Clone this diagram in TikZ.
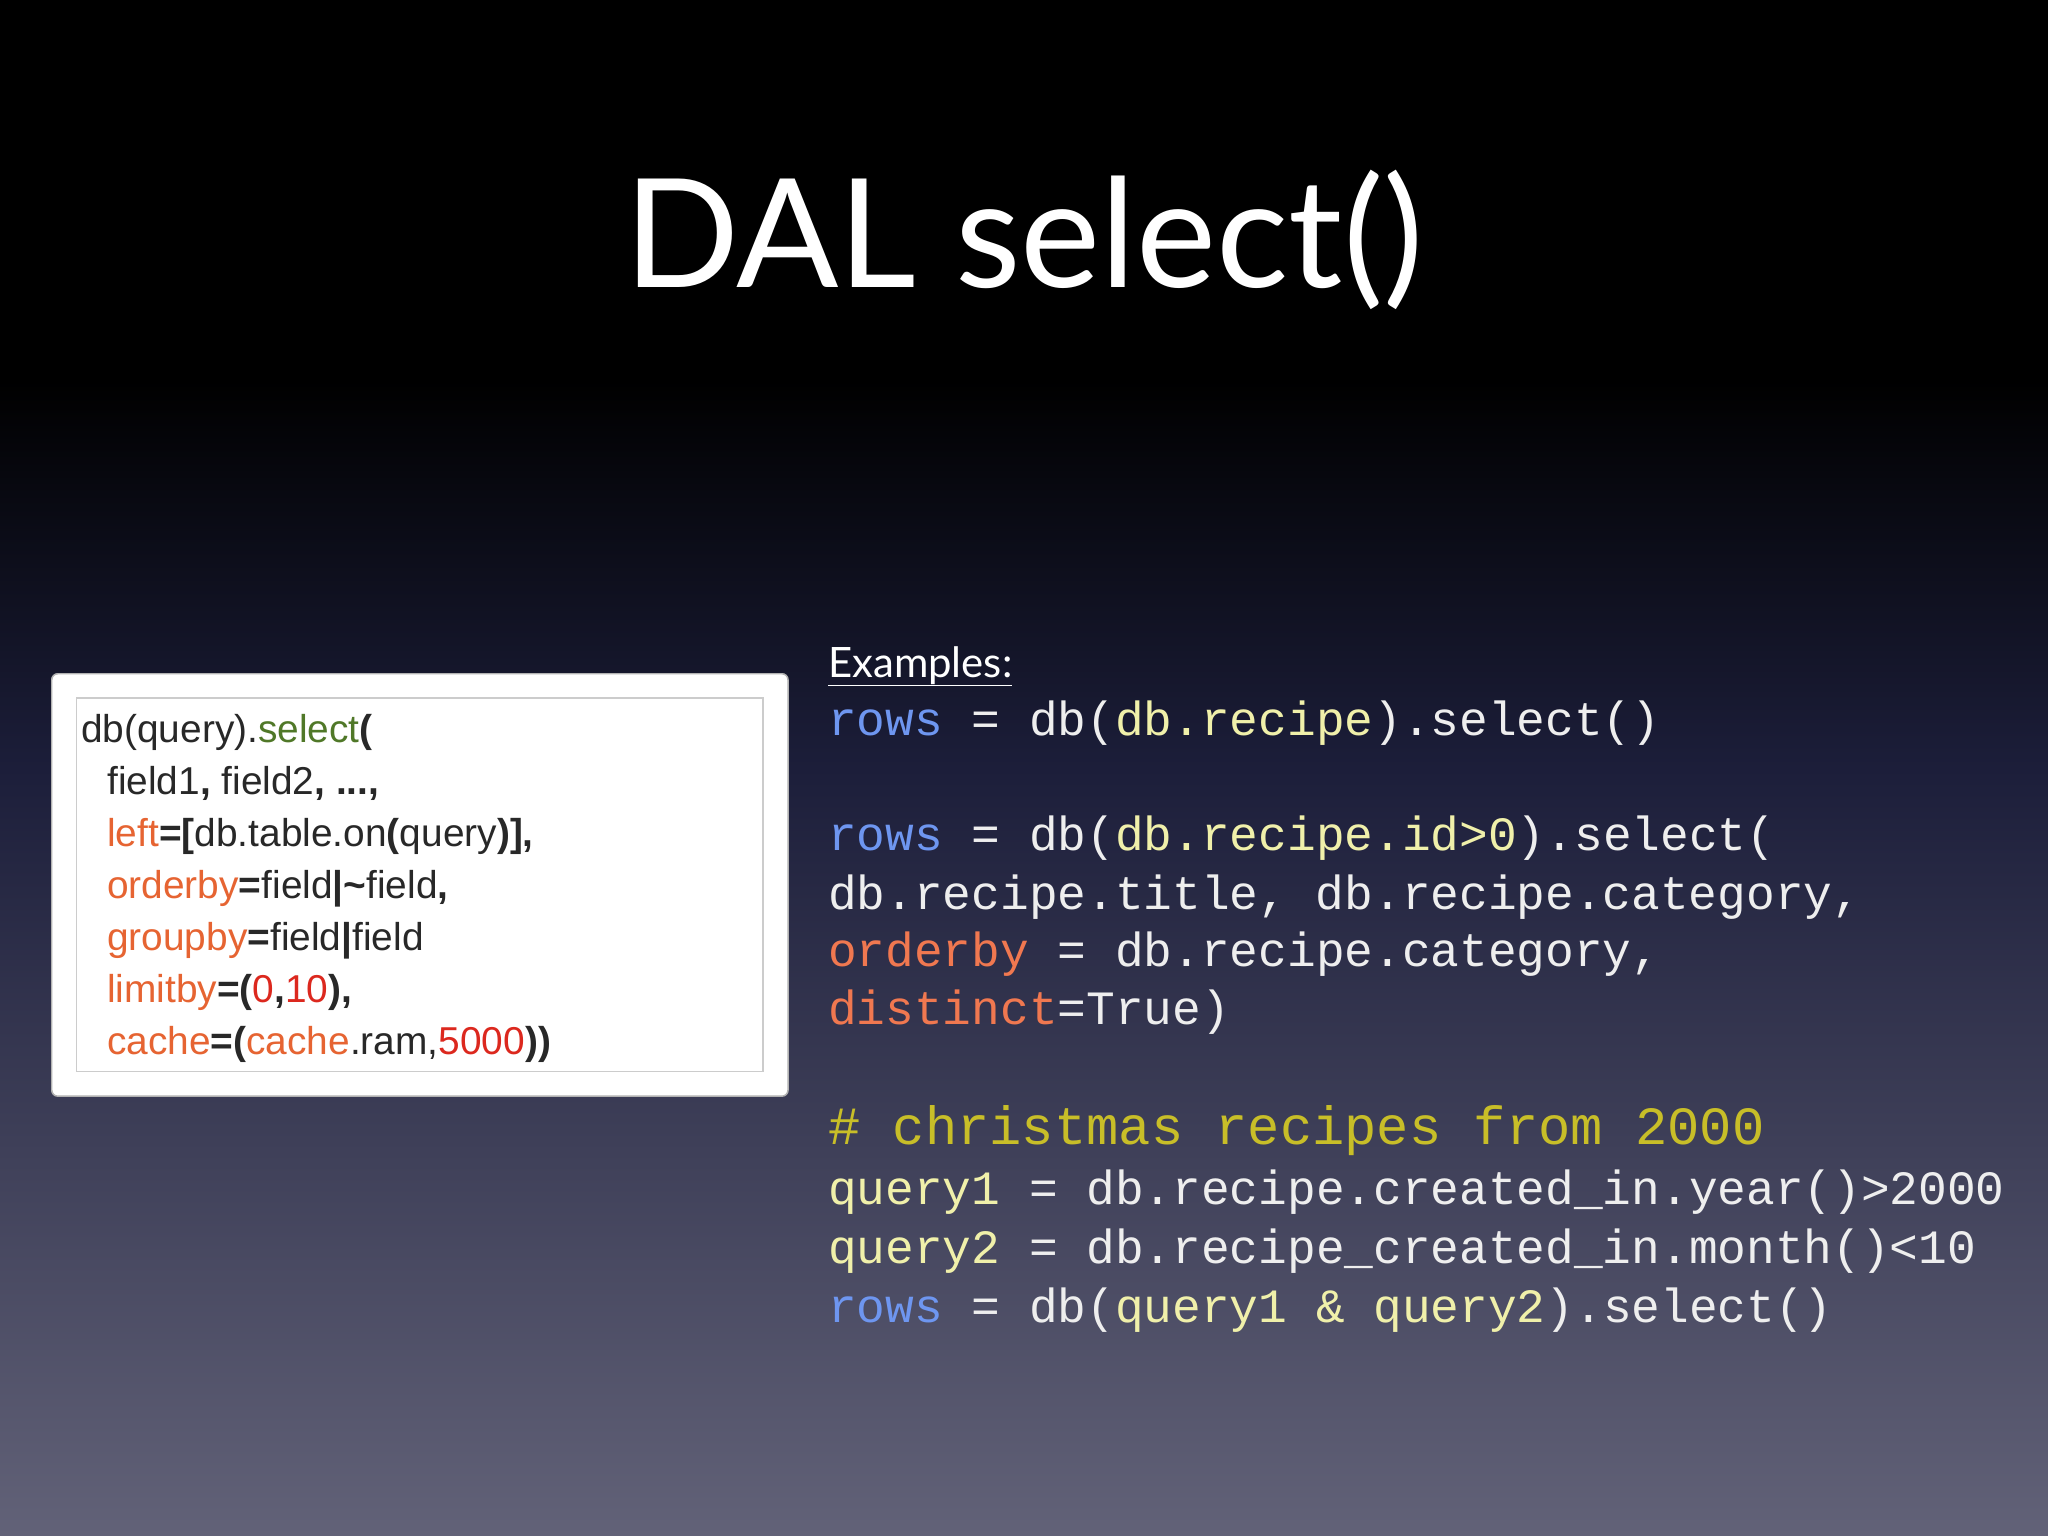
\documentclass[tikz,border=0pt]{standalone}
\usepackage{fontspec}
\setmainfont{Liberation Sans}
\newfontfamily\titlefont{Lato}
\newfontfamily\codefont{Liberation Mono}
\newfontfamily\boxfont{Liberation Sans}
\definecolor{cblue}{RGB}{110,150,240}
\definecolor{cyel}{RGB}{240,240,170}
\definecolor{corg}{RGB}{240,120,80}
\definecolor{ccom}{RGB}{200,190,40}
\definecolor{cwh}{RGB}{238,238,238}
\definecolor{bdark}{RGB}{40,40,40}
\definecolor{bgreen}{RGB}{80,120,40}
\definecolor{borg}{RGB}{230,100,50}
\definecolor{bred}{RGB}{220,40,30}
\definecolor{bgmid}{RGB}{28,30,58}
\definecolor{bgbot}{RGB}{98,98,120}
\tikzset{
  code/.style={anchor=base west,inner sep=0,text=cwh,font=\codefont\fontsize{48}{48}\selectfont},
  bx/.style={anchor=base west,inner sep=0,text=bdark,font=\boxfont\fontsize{39}{39}\selectfont},
}
\begin{document}
\begin{tikzpicture}[x=1bp,y=-1bp]
\shade[top color=black,middle color=bgmid,bottom color=bgbot] (0,0) rectangle (2048,1536);
\fill[black] (0,0) rectangle (2048,380);
\shade[top color=black,bottom color=bgmid] (0,380) rectangle (2048,768);
\shade[top color=bgmid,bottom color=bgbot] (0,768) rectangle (2048,1536);
\useasboundingbox (0,0) rectangle (2048,1536);
\node[anchor=base,inner sep=0,text=white,font=\titlefont\fontsize{152}{152}\selectfont] (title) at (1024,287) {DAL select()};
% box
\node[draw=gray!60,fill=white,rounded corners=6,minimum width=739,minimum height=424,anchor=north west,line width=1.5] (outer) at (51,673) {};
\node[draw=gray!40,line width=1.5,minimum width=689,minimum height=375,anchor=north west] (inner) at (76,697) {};
\node[bx] (b1) at (81,742) {db(query).\textcolor{bgreen}{select}\textbf{(}};
\node[bx] (b2) at (107,794) {field1\textbf{,} field2\textbf{, ...,}};
\node[bx] (b3) at (107,846) {\textcolor{borg}{left}\textbf{=[}db.table.on\textbf{(}query\textbf{)],}};
\node[bx] (b4) at (107,898) {\textcolor{borg}{orderby}\textbf{=}field\textbf{|\textasciitilde}field\textbf{,}};
\node[bx] (b5) at (107,950) {\textcolor{borg}{groupby}\textbf{=}field\textbf{|}field};
\node[bx] (b6) at (107,1002) {\textcolor{borg}{limitby}\textbf{=(}\textcolor{bred}{0}\textbf{,}\textcolor{bred}{10}\textbf{),}};
\node[bx] (b7) at (107,1054) {\textcolor{borg}{cache}\textbf{=(}\textcolor{borg}{cache}.ram,\textcolor{bred}{5000}\textbf{))}};
% examples
\node[anchor=base west,inner sep=0,text=white,font=\titlefont\fontsize{42}{42}\selectfont] (ex) at (828,677) {\underline{Examples:}};
\node[code] (c1) at (828,735) {\textcolor{cblue}{rows} = db(\textcolor{cyel}{db.recipe}).select()};
\node[code] (c2) at (828,850) {\textcolor{cblue}{rows} = db(\textcolor{cyel}{db.recipe.id>0}).select(};
\node[code] (c3) at (828,909) { db.recipe.title, db.recipe.category,};
\node[code] (c4) at (828,966) { \textcolor{corg}{orderby} = db.recipe.category,};
\node[code] (c5) at (828,1024) { \textcolor{corg}{distinct}=True)};
\node[code,text=ccom,font=\codefont\fontsize{54}{54}\selectfont] (c6) at (828,1144) {\# christmas recipes from 2000};
\node[code] (c7) at (828,1204) {\textcolor{cyel}{query1} = db.recipe.created\_in.year()>2000};
\node[code] (c8) at (828,1263) {\textcolor{cyel}{query2} = db.recipe\_created\_in.month()<10};
\node[code] (c9) at (828,1322) {\textcolor{cblue}{rows} = db(\textcolor{cyel}{query1 \& query2}).select()};
\end{tikzpicture}
\end{document}
